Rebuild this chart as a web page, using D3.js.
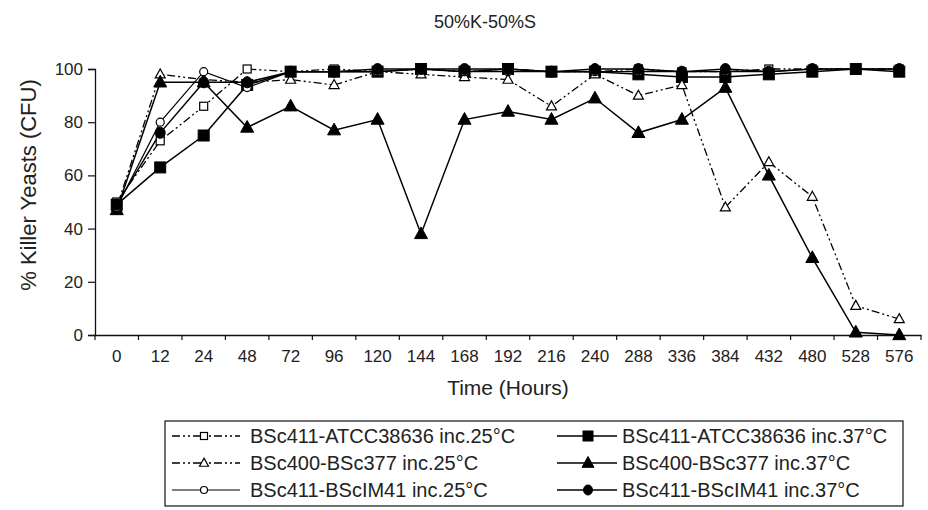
<!DOCTYPE html>
<html>
<head>
<meta charset="utf-8">
<script src="https://cdn.jsdelivr.net/npm/d3@7/dist/d3.min.js"></script>
<style>
  html, body { margin: 0; padding: 0; background: #fff; }
  svg { display: block; font-family: "Liberation Sans", Arial, sans-serif; }
</style>
</head>
<body>
<svg id="chart" width="928" height="510"></svg>
<script>
// ---- data ----
const categories = ["0","12","24","48","72","96","120","144","168","192","216","240","288","336","384","432","480","528","576"];
const yTicks = [0, 20, 40, 60, 80, 100];
const seriesNames = [
  "BSc411-ATCC38636 inc.25°C",
  "BSc411-ATCC38636 inc.37°C",
  "BSc400-BSc377 inc.25°C",
  "BSc400-BSc377 inc.37°C",
  "BSc411-BScIM41 inc.25°C",
  "BSc411-BScIM41 inc.37°C"
];
const atcc25 = [50,73,86,100,99,100,99,100,99,100,99,99,100,99,99,100,100,100,100];
const atcc37 = [49,63,75,94,99,99,99,100,99,100,99,99,98,97,97,98,99,100,99];
const bsc25  = [48,98,96,95,96,94,99,98,97,96,86,98,90,94,48,65,52,11,6];
const bsc37  = [47,95,95,78,86,77,81,38,81,84,81,89,76,81,93,60,29,1,0];
const im25   = [48,80,99,93,99,99,99,100,99,99,99,99,99,99,99,99,100,100,100];
const im37   = [49,76,95,95,99,99,100,100,100,100,99,100,100,99,100,99,100,100,100];

// ---- styles ----
const styles = [
  { values: atcc25, marker: "square",   filled: false, dash: "8,3,2,3,2,3", size: 8,  width: 1.3 },
  { values: atcc37, marker: "square",   filled: true,  dash: null,          size: 11, width: 1.5 },
  { values: bsc25,  marker: "triangle", filled: false, dash: "8,3,2,3,2,3", size: 10, width: 1.3 },
  { values: bsc37,  marker: "triangle", filled: true,  dash: null,          size: 13, width: 1.5 },
  { values: im25,   marker: "circle",   filled: false, dash: null,          size: 8,  width: 1.2 },
  { values: im37,   marker: "circle",   filled: true,  dash: null,          size: 11, width: 1.5 }
];

const svg = d3.select("#chart");
const L = 95, R = 921, T = 69, B = 335;

const x = d3.scaleBand().domain(categories).range([L, R]).padding(0);
const y = d3.scaleLinear().domain([0, 100]).range([B, T]);
const cx = c => x(c) + x.bandwidth() / 2;

// title
svg.append("text").attr("x", 485).attr("y", 28).attr("text-anchor", "middle")
  .attr("font-size", 18).attr("fill", "#222").text("50%K-50%S");

// y axis
const yAxis = svg.append("g").attr("transform", `translate(${L},0)`)
  .call(d3.axisLeft(y).tickValues(yTicks).tickSize(7).tickPadding(5));
yAxis.select(".domain").attr("stroke", "#111").attr("stroke-width", 1.3);
yAxis.selectAll(".tick line").attr("stroke", "#111").attr("stroke-width", 1.2);
yAxis.selectAll(".tick text").attr("font-size", 17).attr("fill", "#222")
  .attr("font-family", "Liberation Sans, Arial, sans-serif");

// x axis (labels at centres, tick marks at band edges)
const xAxis = svg.append("g").attr("transform", `translate(0,${B})`)
  .call(d3.axisBottom(x).tickSize(0).tickPadding(15));
xAxis.select(".domain").attr("stroke", "#111").attr("stroke-width", 1.3);
xAxis.selectAll(".tick text").attr("font-size", 17).attr("fill", "#222")
  .attr("font-family", "Liberation Sans, Arial, sans-serif");
const edges = categories.map(c => x(c)).concat([x.range()[1]]);
svg.append("g").selectAll("line").data(edges).join("line")
  .attr("x1", d => d).attr("x2", d => d).attr("y1", B).attr("y2", B + 5)
  .attr("stroke", "#111").attr("stroke-width", 1.2);

// axis titles
svg.append("text").attr("x", (L + R) / 2).attr("y", 395).attr("text-anchor", "middle")
  .attr("font-size", 21).attr("fill", "#222").text("Time (Hours)");
svg.append("text").attr("transform", "translate(36,185) rotate(-90)").attr("text-anchor", "middle")
  .attr("font-size", 22).attr("fill", "#222").text("% Killer Yeasts (CFU)");

// marker drawing
function drawMarker(g, type, filled, size, px, py) {
  const fill = filled ? "#000" : "#fff";
  const sw = filled ? 1 : 1.2;
  if (type === "square") {
    g.append("rect").attr("x", px - size / 2).attr("y", py - size / 2)
      .attr("width", size).attr("height", size)
      .attr("fill", fill).attr("stroke", "#000").attr("stroke-width", sw);
  } else if (type === "triangle") {
    const h = size * 0.9;
    g.append("path")
      .attr("d", `M${px},${py - h * 0.6}L${px + size / 2},${py + h * 0.4}L${px - size / 2},${py + h * 0.4}Z`)
      .attr("fill", fill).attr("stroke", "#000").attr("stroke-width", sw);
  } else {
    g.append("ellipse").attr("cx", px).attr("cy", py)
      .attr("rx", filled ? size / 2 - 0.5 : size / 2).attr("ry", size / 2)
      .attr("fill", fill).attr("stroke", "#000").attr("stroke-width", sw);
  }
}

// series lines
const line = d3.line().x((d, i) => cx(categories[i])).y(d => y(d));
styles.forEach(s => {
  svg.append("path").datum(s.values).attr("d", line)
    .attr("fill", "none").attr("stroke", "#000").attr("stroke-width", s.width)
    .attr("stroke-dasharray", s.dash);
});
// series markers
styles.forEach(s => {
  const g = svg.append("g");
  s.values.forEach((v, i) => drawMarker(g, s.marker, s.filled, s.size, cx(categories[i]), y(v)));
});

// legend
const lg = svg.append("g");
lg.append("rect").attr("x", 165).attr("y", 421).attr("width", 738).attr("height", 85)
  .attr("fill", "#fff").attr("stroke", "#111").attr("stroke-width", 1.2);
const rowsY = [436, 463, 490];
const cols = [
  { x1: 172, x2: 240, mx: 204, tx: 250 },
  { x1: 557, x2: 617, mx: 588, tx: 622 }
];
styles.forEach((s, i) => {
  const col = cols[i % 2];
  const ry = rowsY[Math.floor(i / 2)];
  lg.append("line").attr("x1", col.x1).attr("x2", col.x2).attr("y1", ry).attr("y2", ry)
    .attr("stroke", "#000").attr("stroke-width", s.width).attr("stroke-dasharray", s.dash);
  drawMarker(lg, s.marker, s.filled, s.size - 1, col.mx, ry);
  lg.append("text").attr("x", col.tx).attr("y", ry + 7).attr("font-size", 20).attr("fill", "#222")
    .text(seriesNames[i]);
});
</script>
</body>
</html>
